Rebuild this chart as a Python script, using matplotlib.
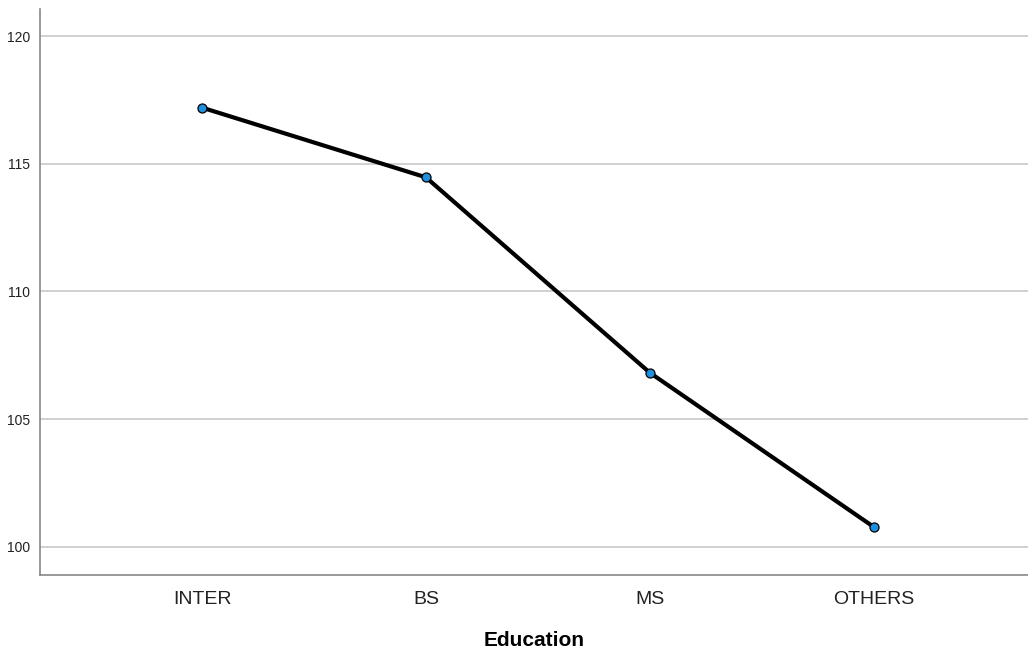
import matplotlib
matplotlib.use('Agg')
import matplotlib.pyplot as plt

plt.rcParams['font.family'] = ['Liberation Sans', 'DejaVu Sans']

# data
categories = ['INTER', 'BS', 'MS', 'OTHERS']
means = [117.2, 114.47, 106.82, 100.78]
y_ticks = [100, 105, 110, 115, 120]

fig = plt.figure(figsize=(10.28, 6.51), dpi=100)
ax = fig.add_axes([0.039, 0.117, 0.961, 0.869])

x = list(range(len(categories)))
ax.plot(x, means, color='black', lw=3, zorder=3,
        marker='o', markersize=6.5, markerfacecolor='#1f8fe0',
        markeredgecolor='black', markeredgewidth=0.9)

ax.set_xlim(-0.724, 3.69)
ax.set_ylim(98.9, 121.06)
ax.set_yticks(y_ticks)
ax.set_xticks(x)
ax.set_xticklabels(categories)
ax.grid(axis='y', color='#c8c8c8', lw=1.2)
ax.set_axisbelow(True)

ax.tick_params(axis='y', length=0, pad=7, labelsize=10, labelcolor='#222222')
ax.tick_params(axis='x', length=0, pad=12, labelsize=14, labelcolor='#222222')

for side in ['top', 'right']:
    ax.spines[side].set_visible(False)
for side in ['left', 'bottom']:
    ax.spines[side].set_color('#888888')
    ax.spines[side].set_linewidth(1.2)

ax.set_xlabel('Education', fontsize=15, fontweight='bold', labelpad=16)

plt.savefig('out.png', dpi=100)
